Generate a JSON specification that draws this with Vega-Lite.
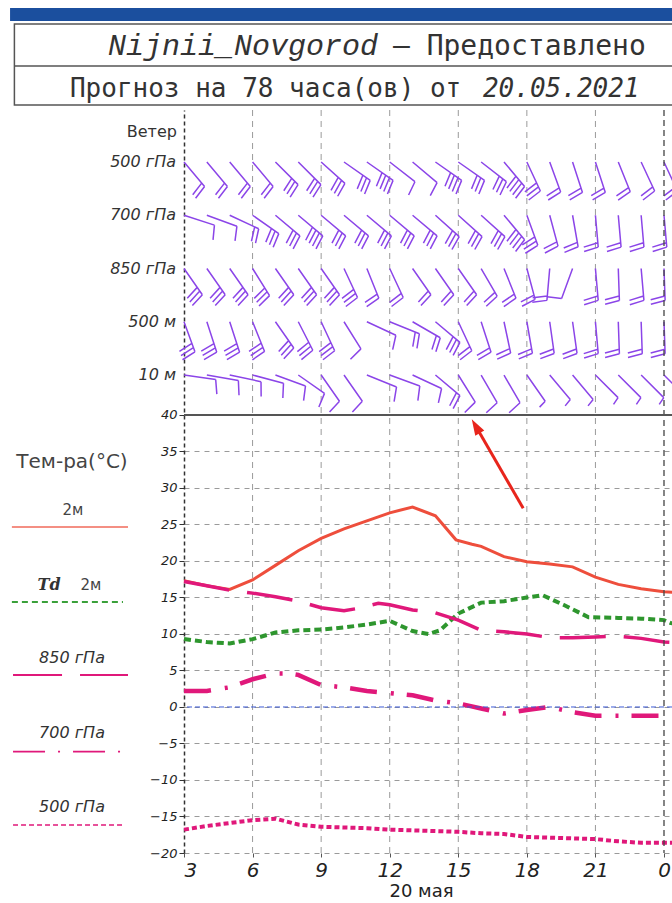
{
"$schema":"https://vega.github.io/schema/vega-lite/v6.json",
"width":488,"height":743,
"autosize":{"type":"none"},
"padding":{"left":184,"top":110,"right":0,"bottom":50},
"background":"white",
"config":{"view":{"stroke":null},"font":"DejaVu Sans"},
"datasets":{
"grid":[{"g":6},{"g":9},{"g":12},{"g":15},{"g":18},{"g":21}],
"levels":[{"lev":"500 гПа","lbl":"500 гПа"},{"lev":"700 гПа","lbl":"700 гПа"},{"lev":"850 гПа","lbl":"850 гПа"},{"lev":"500 м","lbl":"500 м"},{"lev":"10 м","lbl":"10   м"}],
"wind":[
{"h":3,"lev":"500 гПа","a":50,"n":"2"},{"h":4,"lev":"500 гПа","a":50,"n":"2"},{"h":5,"lev":"500 гПа","a":50,"n":"2"},{"h":6,"lev":"500 гПа","a":50,"n":"2"},{"h":7,"lev":"500 гПа","a":45,"n":"3"},{"h":8,"lev":"500 гПа","a":45,"n":"3"},{"h":9,"lev":"500 гПа","a":42,"n":"3"},{"h":10,"lev":"500 гПа","a":35,"n":"3"},{"h":11,"lev":"500 гПа","a":35,"n":"4"},{"h":12,"lev":"500 гПа","a":38,"n":"1"},{"h":13,"lev":"500 гПа","a":40,"n":"1"},{"h":14,"lev":"500 гПа","a":35,"n":"4"},{"h":15,"lev":"500 гПа","a":35,"n":"3"},{"h":16,"lev":"500 гПа","a":38,"n":"3"},{"h":17,"lev":"500 гПа","a":50,"n":"4"},{"h":18,"lev":"500 гПа","a":65,"n":"3"},{"h":19,"lev":"500 гПа","a":70,"n":"2"},{"h":20,"lev":"500 гПа","a":72,"n":"2"},{"h":21,"lev":"500 гПа","a":72,"n":"2"},{"h":22,"lev":"500 гПа","a":68,"n":"2"},{"h":23,"lev":"500 гПа","a":65,"n":"2"},{"h":24,"lev":"500 гПа","a":65,"n":"2"},
{"h":3,"lev":"700 гПа","a":18,"n":"1"},{"h":4,"lev":"700 гПа","a":20,"n":"1"},{"h":5,"lev":"700 гПа","a":25,"n":"2"},{"h":6,"lev":"700 гПа","a":35,"n":"3"},{"h":7,"lev":"700 гПа","a":40,"n":"3"},{"h":8,"lev":"700 гПа","a":40,"n":"4"},{"h":9,"lev":"700 гПа","a":40,"n":"3"},{"h":10,"lev":"700 гПа","a":40,"n":"3"},{"h":11,"lev":"700 гПа","a":40,"n":"3"},{"h":12,"lev":"700 гПа","a":40,"n":"3"},{"h":13,"lev":"700 гПа","a":40,"n":"3"},{"h":14,"lev":"700 гПа","a":42,"n":"3"},{"h":15,"lev":"700 гПа","a":42,"n":"3"},{"h":16,"lev":"700 гПа","a":42,"n":"3"},{"h":17,"lev":"700 гПа","a":50,"n":"4"},{"h":18,"lev":"700 гПа","a":70,"n":"3"},{"h":19,"lev":"700 гПа","a":75,"n":"2"},{"h":20,"lev":"700 гПа","a":80,"n":"2"},{"h":21,"lev":"700 гПа","a":85,"n":"2"},{"h":22,"lev":"700 гПа","a":85,"n":"2"},{"h":23,"lev":"700 гПа","a":85,"n":"2"},{"h":24,"lev":"700 гПа","a":85,"n":"2"},
{"h":3,"lev":"850 гПа","a":55,"n":"3"},{"h":4,"lev":"850 гПа","a":55,"n":"3"},{"h":5,"lev":"850 гПа","a":55,"n":"3"},{"h":6,"lev":"850 гПа","a":58,"n":"3"},{"h":7,"lev":"850 гПа","a":55,"n":"3"},{"h":8,"lev":"850 гПа","a":55,"n":"3"},{"h":9,"lev":"850 гПа","a":55,"n":"3"},{"h":10,"lev":"850 гПа","a":65,"n":"3"},{"h":11,"lev":"850 гПа","a":68,"n":"2"},{"h":12,"lev":"850 гПа","a":65,"n":"2"},{"h":13,"lev":"850 гПа","a":55,"n":"2"},{"h":14,"lev":"850 гПа","a":55,"n":"2"},{"h":15,"lev":"850 гПа","a":55,"n":"2"},{"h":16,"lev":"850 гПа","a":60,"n":"2"},{"h":17,"lev":"850 гПа","a":68,"n":"2"},{"h":18,"lev":"850 гПа","a":75,"n":"2"},{"h":19,"lev":"850 гПа","a":95,"n":"2"},{"h":20,"lev":"850 гПа","a":110,"n":"1"},{"h":21,"lev":"850 гПа","a":85,"n":"2"},{"h":22,"lev":"850 гПа","a":88,"n":"2"},{"h":23,"lev":"850 гПа","a":85,"n":"2"},{"h":24,"lev":"850 гПа","a":88,"n":"2"},
{"h":3,"lev":"500 м","a":70,"n":"3"},{"h":4,"lev":"500 м","a":72,"n":"3"},{"h":5,"lev":"500 м","a":72,"n":"3"},{"h":6,"lev":"500 м","a":68,"n":"3"},{"h":7,"lev":"500 м","a":55,"n":"3"},{"h":8,"lev":"500 м","a":63,"n":"3"},{"h":9,"lev":"500 м","a":65,"n":"3"},{"h":10,"lev":"500 м","a":58,"n":"1"},{"h":11,"lev":"500 м","a":25,"n":"1"},{"h":12,"lev":"500 м","a":22,"n":"2"},{"h":13,"lev":"500 м","a":30,"n":"2"},{"h":14,"lev":"500 м","a":40,"n":"3"},{"h":15,"lev":"500 м","a":65,"n":"2"},{"h":16,"lev":"500 м","a":72,"n":"2"},{"h":17,"lev":"500 м","a":78,"n":"2"},{"h":18,"lev":"500 м","a":80,"n":"2"},{"h":19,"lev":"500 м","a":82,"n":"2"},{"h":20,"lev":"500 м","a":82,"n":"2"},{"h":21,"lev":"500 м","a":85,"n":"2"},{"h":22,"lev":"500 м","a":88,"n":"2"},{"h":23,"lev":"500 м","a":88,"n":"2"},{"h":24,"lev":"500 м","a":88,"n":"2"},
{"h":3,"lev":"10 м","a":8,"n":"1"},{"h":4,"lev":"10 м","a":10,"n":"1"},{"h":5,"lev":"10 м","a":12,"n":"1"},{"h":6,"lev":"10 м","a":15,"n":"1"},{"h":7,"lev":"10 м","a":20,"n":"1"},{"h":8,"lev":"10 м","a":35,"n":"1"},{"h":9,"lev":"10 м","a":55,"n":"1"},{"h":10,"lev":"10 м","a":55,"n":"1"},{"h":11,"lev":"10 м","a":22,"n":"1"},{"h":12,"lev":"10 м","a":20,"n":"1"},{"h":13,"lev":"10 м","a":25,"n":"1"},{"h":14,"lev":"10 м","a":40,"n":"2"},{"h":15,"lev":"10 м","a":58,"n":"1"},{"h":16,"lev":"10 м","a":60,"n":"1"},{"h":17,"lev":"10 м","a":60,"n":"1"},{"h":18,"lev":"10 м","a":55,"n":"h"},{"h":19,"lev":"10 м","a":50,"n":"h"},{"h":20,"lev":"10 м","a":50,"n":"h"},{"h":21,"lev":"10 м","a":45,"n":"h"},{"h":22,"lev":"10 м","a":45,"n":"h"},{"h":23,"lev":"10 м","a":45,"n":"h"},{"h":24,"lev":"10 м","a":45,"n":"h"}
],
"temps":[
{"s":"2м","h":3,"t":17.3},{"s":"2м","h":4,"t":16.6},{"s":"2м","h":5,"t":16.1},{"s":"2м","h":6,"t":17.4},{"s":"2м","h":7,"t":19.4},{"s":"2м","h":8,"t":21.4},{"s":"2м","h":9,"t":23.1},{"s":"2м","h":10,"t":24.4},{"s":"2м","h":11,"t":25.5},{"s":"2м","h":12,"t":26.6},{"s":"2м","h":13,"t":27.4},{"s":"2м","h":14,"t":26.2},{"s":"2м","h":14.9,"t":22.9},{"s":"2м","h":15.6,"t":22.3},{"s":"2м","h":16,"t":22.0},{"s":"2м","h":17,"t":20.6},{"s":"2м","h":18,"t":19.9},{"s":"2м","h":19,"t":19.6},{"s":"2м","h":20,"t":19.2},{"s":"2м","h":21,"t":17.8},{"s":"2м","h":22,"t":16.8},{"s":"2м","h":23,"t":16.2},{"s":"2м","h":24,"t":15.8},{"s":"2м","h":25,"t":15.6},
{"s":"Td 2м","h":3,"t":9.3},{"s":"Td 2м","h":4,"t":8.9},{"s":"Td 2м","h":5,"t":8.7},{"s":"Td 2м","h":6,"t":9.3},{"s":"Td 2м","h":7,"t":10.2},{"s":"Td 2м","h":8,"t":10.5},{"s":"Td 2м","h":9,"t":10.6},{"s":"Td 2м","h":10,"t":10.9},{"s":"Td 2м","h":11,"t":11.3},{"s":"Td 2м","h":12,"t":11.8},{"s":"Td 2м","h":13,"t":10.4},{"s":"Td 2м","h":13.7,"t":10.0},{"s":"Td 2м","h":14.2,"t":10.5},{"s":"Td 2м","h":15,"t":12.8},{"s":"Td 2м","h":16,"t":14.3},{"s":"Td 2м","h":17,"t":14.5},{"s":"Td 2м","h":18,"t":15.0},{"s":"Td 2м","h":18.7,"t":15.3},{"s":"Td 2м","h":19.6,"t":14.0},{"s":"Td 2м","h":20.7,"t":12.3},{"s":"Td 2м","h":22,"t":12.2},{"s":"Td 2м","h":23,"t":12.1},{"s":"Td 2м","h":24,"t":11.9},{"s":"Td 2м","h":24.3,"t":11.5},{"s":"Td 2м","h":25,"t":11.3},
{"s":"850 гПа","h":3,"t":17.2},{"s":"850 гПа","h":4,"t":16.6},{"s":"850 гПа","h":5,"t":16.0},{"s":"850 гПа","h":6,"t":15.6},{"s":"850 гПа","h":7,"t":15.1},{"s":"850 гПа","h":8,"t":14.5},{"s":"850 гПа","h":9,"t":13.6},{"s":"850 гПа","h":10,"t":13.2},{"s":"850 гПа","h":10.6,"t":13.5},{"s":"850 гПа","h":11.5,"t":14.2},{"s":"850 гПа","h":12,"t":14.0},{"s":"850 гПа","h":13,"t":13.3},{"s":"850 гПа","h":14,"t":12.9},{"s":"850 гПа","h":15,"t":11.9},{"s":"850 гПа","h":16,"t":10.5},{"s":"850 гПа","h":17,"t":10.3},{"s":"850 гПа","h":18,"t":10.0},{"s":"850 гПа","h":19,"t":9.5},{"s":"850 гПа","h":20,"t":9.5},{"s":"850 гПа","h":21,"t":9.6},{"s":"850 гПа","h":22,"t":9.7},{"s":"850 гПа","h":23,"t":9.4},{"s":"850 гПа","h":24,"t":8.9},{"s":"850 гПа","h":25,"t":8.8},
{"s":"700 гПа","h":3,"t":2.2},{"s":"700 гПа","h":4,"t":2.2},{"s":"700 гПа","h":5,"t":2.7},{"s":"700 гПа","h":6,"t":3.8},{"s":"700 гПа","h":7,"t":4.6},{"s":"700 гПа","h":7.6,"t":4.6},{"s":"700 гПа","h":8,"t":4.4},{"s":"700 гПа","h":9,"t":3.0},{"s":"700 гПа","h":10,"t":2.7},{"s":"700 гПа","h":11,"t":2.2},{"s":"700 гПа","h":12,"t":1.9},{"s":"700 гПа","h":13,"t":1.6},{"s":"700 гПа","h":14,"t":0.9},{"s":"700 гПа","h":15,"t":0.5},{"s":"700 гПа","h":16,"t":-0.2},{"s":"700 гПа","h":17,"t":-0.9},{"s":"700 гПа","h":18,"t":-0.4},{"s":"700 гПа","h":19,"t":0.0},{"s":"700 гПа","h":20,"t":-0.7},{"s":"700 гПа","h":21,"t":-1.2},{"s":"700 гПа","h":22,"t":-1.2},{"s":"700 гПа","h":23,"t":-1.2},{"s":"700 гПа","h":24,"t":-1.2},{"s":"700 гПа","h":25,"t":-1.2},
{"s":"500 гПа","h":3,"t":-16.8},{"s":"500 гПа","h":4,"t":-16.3},{"s":"500 гПа","h":5,"t":-15.9},{"s":"500 гПа","h":6,"t":-15.5},{"s":"500 гПа","h":7,"t":-15.3},{"s":"500 гПа","h":8,"t":-16.1},{"s":"500 гПа","h":9,"t":-16.4},{"s":"500 гПа","h":10,"t":-16.5},{"s":"500 гПа","h":11,"t":-16.6},{"s":"500 гПа","h":12,"t":-16.8},{"s":"500 гПа","h":13,"t":-16.9},{"s":"500 гПа","h":14,"t":-17.0},{"s":"500 гПа","h":15,"t":-17.1},{"s":"500 гПа","h":16,"t":-17.3},{"s":"500 гПа","h":17,"t":-17.4},{"s":"500 гПа","h":18,"t":-17.8},{"s":"500 гПа","h":19,"t":-17.9},{"s":"500 гПа","h":20,"t":-18.0},{"s":"500 гПа","h":21,"t":-18.1},{"s":"500 гПа","h":22,"t":-18.4},{"s":"500 гПа","h":23,"t":-18.6},{"s":"500 гПа","h":24,"t":-18.6},{"s":"500 гПа","h":25,"t":-18.6}
]
},
"layer":[
{"layer":[
 {"data":{"name":"grid"},"mark":{"type":"rule","color":"#9a9a9a","strokeDash":[6,5],"strokeWidth":1},
  "encoding":{"x":{"field":"g","type":"quantitative","scale":{"domain":[3,24.35],"nice":false,"zero":false},
        "axis":{"values":[3,6,9,12,15,18,21,24],"labelExpr":"datum.value == 24 ? '0' : datum.label","title":"20 мая","grid":false,"domain":false,"tickSize":4,"tickColor":"#555","labelFont":"DejaVu Sans","labelFontStyle":"italic","labelFontSize":20,"labelColor":"#222","labelPadding":3,"titleFont":"DejaVu Sans","titleFontSize":18,"titleFontWeight":"normal","titleColor":"#222","titlePadding":2,"titleX":237}}}},
 {"data":{"name":"wind"},
  "mark":{"type":"point","filled":false,"opacity":1,"strokeWidth":1.5,"color":"#8b45e8","size":1024},
  "encoding":{
   "x":{"field":"h","type":"quantitative"},
   "y":{"field":"lev","type":"nominal","scale":{"type":"point","domain":["500 гПа","700 гПа","850 гПа","500 м","10 м"],"range":[52,265],"padding":0},"axis":null},
   "shape":{"field":"n","type":"nominal","scale":{"domain":["h","1","2","3","4"],"range":[
     "M0,0L2,0M2,0L2.1,0.5",
     "M0,0L2,0M2,0L2.2,0.9",
     "M0,0L2,0M2,0L2.2,0.9M1.72,0L1.92,0.9",
     "M0,0L2,0M2,0L2.2,0.9M1.72,0L1.92,0.9M1.44,0L1.64,0.9",
     "M0,0L2,0M2,0L2.2,0.9M1.72,0L1.92,0.9M1.44,0L1.64,0.9M1.16,0L1.36,0.9"]},"legend":null},
   "angle":{"field":"a","type":"quantitative","scale":{"domain":[0,360],"range":[0,360]},"legend":null}
  }},
 {"data":{"name":"levels"},
  "mark":{"type":"text","align":"right","baseline":"middle","fontSize":16,"fontStyle":"italic","color":"#333"},
  "encoding":{"x":{"datum":2.65,"type":"quantitative"},"y":{"field":"lev","type":"nominal","axis":null},"text":{"field":"lbl"}}}
]},
{"layer":[
 {"data":{"name":"temps"},"transform":[{"filter":"datum.s == '2м'"}],
  "mark":{"type":"line","color":"#ee4e3c","strokeWidth":3},
  "encoding":{"x":{"field":"h","type":"quantitative"},
   "y":{"field":"t","type":"quantitative","scale":{"domain":[-20,81.78],"nice":false,"zero":false},
        "axis":{"values":[-20,-15,-10,-5,0,5,10,15,20,25,30,35,40],"grid":true,"gridDash":[5,5],"gridColor":"#9a9a9a","domainDash":[4,3],"domainColor":"#333","domainWidth":1.5,"tickSize":5,"tickColor":"#333","labelFont":"DejaVu Sans","labelFontStyle":"italic","labelFontSize":13,"labelColor":"#222","labelPadding":2,"title":null}}}},
 {"data":{"name":"temps"},"transform":[{"filter":"datum.s == 'Td 2м'"}],
  "mark":{"type":"line","color":"#2e962e","strokeWidth":4,"strokeDash":[7,4]},
  "encoding":{"x":{"field":"h","type":"quantitative"},"y":{"field":"t","type":"quantitative"}}},
 {"data":{"name":"temps"},"transform":[{"filter":"datum.s == '850 гПа'"}],
  "mark":{"type":"line","color":"#e0187a","strokeWidth":3.5,"strokeDash":[46,18]},
  "encoding":{"x":{"field":"h","type":"quantitative"},"y":{"field":"t","type":"quantitative"}}},
 {"data":{"name":"temps"},"transform":[{"filter":"datum.s == '700 гПа'"}],
  "mark":{"type":"line","color":"#e0187a","strokeWidth":4.5,"strokeDash":[27,14,3,13]},
  "encoding":{"x":{"field":"h","type":"quantitative"},"y":{"field":"t","type":"quantitative"}}},
 {"data":{"name":"temps"},"transform":[{"filter":"datum.s == '500 гПа'"}],
  "mark":{"type":"line","color":"#e0187a","strokeWidth":4,"strokeDash":[5,3]},
  "encoding":{"x":{"field":"h","type":"quantitative"},"y":{"field":"t","type":"quantitative"}}},
 {"data":{"values":[{}]},"mark":{"type":"rule","color":"#444","strokeDash":[6,4],"strokeWidth":1.3},
  "encoding":{"x":{"datum":24,"type":"quantitative"}}},
 {"data":{"values":[{}]},"mark":{"type":"rule","color":"#3d5bd6","strokeDash":[5,3],"strokeWidth":1},
  "encoding":{"y":{"datum":0,"type":"quantitative"}}},
 {"data":{"values":[{}]},"mark":{"type":"rule","color":"#555","strokeWidth":2},
  "encoding":{"y":{"datum":40,"type":"quantitative"}}},
 {"data":{"values":[{}]},"mark":{"type":"rule","color":"#f06a5a","strokeWidth":1.6},
  "encoding":{"x":{"datum":-4.53,"type":"quantitative"},"x2":{"datum":0.55},"y":{"datum":24.66,"type":"quantitative"}}},
 {"data":{"values":[{}]},"mark":{"type":"rule","color":"#3aa03a","strokeWidth":1.8,"strokeDash":[6,4]},
  "encoding":{"x":{"datum":-4.53,"type":"quantitative"},"x2":{"datum":0.33},"y":{"datum":14.38,"type":"quantitative"}}},
 {"data":{"values":[{}]},"mark":{"type":"rule","color":"#e0187a","strokeWidth":1.8,"strokeDash":[49,18]},
  "encoding":{"x":{"datum":-4.48,"type":"quantitative"},"x2":{"datum":0.55},"y":{"datum":4.38,"type":"quantitative"}}},
 {"data":{"values":[{}]},"mark":{"type":"rule","color":"#e0187a","strokeWidth":1.8,"strokeDash":[32,13,2,13]},
  "encoding":{"x":{"datum":-4.48,"type":"quantitative"},"x2":{"datum":0.29},"y":{"datum":-6.12,"type":"quantitative"}}},
 {"data":{"values":[{}]},"mark":{"type":"rule","color":"#e0187a","strokeWidth":1.5,"strokeDash":[5,3]},
  "encoding":{"x":{"datum":-4.48,"type":"quantitative"},"x2":{"datum":0.29},"y":{"datum":-16.16,"type":"quantitative"}}},
 {"data":{"values":[{"t":"Тем-ра(°C)"}]},"mark":{"type":"text","align":"center","baseline":"middle","fontSize":20,"color":"#444"},
  "encoding":{"x":{"datum":-1.9,"type":"quantitative"},"y":{"datum":33.6,"type":"quantitative"},"text":{"field":"t"}}},
 {"data":{"values":[{"t":"2м"}]},"mark":{"type":"text","align":"center","baseline":"middle","fontSize":15,"color":"#444"},
  "encoding":{"x":{"datum":-1.86,"type":"quantitative"},"y":{"datum":27.0,"type":"quantitative"},"text":{"field":"t"}}},
 {"data":{"values":[{"t":"Td"}]},"mark":{"type":"text","align":"center","baseline":"middle","fontSize":16,"font":"DejaVu Serif","fontStyle":"italic","fontWeight":"bold","color":"#333"},
  "encoding":{"x":{"datum":-2.9,"type":"quantitative"},"y":{"datum":16.7,"type":"quantitative"},"text":{"field":"t"}}},
 {"data":{"values":[{"t":"2м"}]},"mark":{"type":"text","align":"center","baseline":"middle","fontSize":15,"color":"#444"},
  "encoding":{"x":{"datum":-1.07,"type":"quantitative"},"y":{"datum":16.7,"type":"quantitative"},"text":{"field":"t"}}},
 {"data":{"values":[{"t":"850 гПа"}]},"mark":{"type":"text","align":"center","baseline":"middle","fontSize":16,"fontStyle":"italic","color":"#333"},
  "encoding":{"x":{"datum":-1.9,"type":"quantitative"},"y":{"datum":6.7,"type":"quantitative"},"text":{"field":"t"}}},
 {"data":{"values":[{"t":"700 гПа"}]},"mark":{"type":"text","align":"center","baseline":"middle","fontSize":16,"fontStyle":"italic","color":"#333"},
  "encoding":{"x":{"datum":-1.9,"type":"quantitative"},"y":{"datum":-3.56,"type":"quantitative"},"text":{"field":"t"}}},
 {"data":{"values":[{"t":"500 гПа"}]},"mark":{"type":"text","align":"center","baseline":"middle","fontSize":16,"fontStyle":"italic","color":"#333"},
  "encoding":{"x":{"datum":-1.9,"type":"quantitative"},"y":{"datum":-13.7,"type":"quantitative"},"text":{"field":"t"}}},
 {"data":{"values":[{"t":"Ветер"}]},"mark":{"type":"text","align":"right","baseline":"middle","fontSize":16,"color":"#333"},
  "encoding":{"x":{"datum":2.69,"type":"quantitative"},"y":{"datum":78.77,"type":"quantitative"},"text":{"field":"t"}}},
 {"data":{"values":[{}]},"mark":{"type":"rect","fill":"#1b4f9e"},
  "encoding":{"x":{"datum":-4.61,"type":"quantitative"},"x2":{"datum":24.6},"y":{"datum":95.75,"type":"quantitative"},"y2":{"datum":93.97}}},
 {"data":{"values":[{}]},"mark":{"type":"rect","fill":"white","stroke":"#555","strokeWidth":1.5},
  "encoding":{"x":{"datum":-4.42,"type":"quantitative"},"x2":{"datum":24.8},"y":{"datum":93.56,"type":"quantitative"},"y2":{"datum":82.47}}},
 {"data":{"values":[{}]},"mark":{"type":"rule","color":"#555","strokeWidth":1.5},
  "encoding":{"x":{"datum":-4.42,"type":"quantitative"},"x2":{"datum":24.8},"y":{"datum":87.81,"type":"quantitative"}}},
 {"data":{"values":[{"t":"Nijnii_Novgorod"}]},"mark":{"type":"text","align":"left","baseline":"alphabetic","fontSize":30,"font":"Liberation Mono","fontStyle":"italic","color":"#333"},
  "encoding":{"x":{"datum":-0.33,"type":"quantitative"},"y":{"datum":89.32,"type":"quantitative"},"text":{"field":"t"}}},
 {"data":{"values":[{"t":"— Предоставлено"}]},"mark":{"type":"text","align":"left","baseline":"alphabetic","fontSize":28,"font":"DejaVu Sans Mono","color":"#333"},
  "encoding":{"x":{"datum":12.14,"type":"quantitative"},"y":{"datum":89.32,"type":"quantitative"},"text":{"field":"t"}}},
 {"data":{"values":[{"t":"Прогноз на 78 часа(ов) от"}]},"mark":{"type":"text","align":"left","baseline":"alphabetic","fontSize":26,"font":"DejaVu Sans Mono","color":"#333"},
  "encoding":{"x":{"datum":-1.99,"type":"quantitative"},"y":{"datum":83.6,"type":"quantitative"},"text":{"field":"t"}}},
 {"data":{"values":[{"t":"20.05.2021"}]},"mark":{"type":"text","align":"left","baseline":"alphabetic","fontSize":26,"font":"DejaVu Sans Mono","fontStyle":"italic","color":"#333"},
  "encoding":{"x":{"datum":16.08,"type":"quantitative"},"y":{"datum":83.6,"type":"quantitative"},"text":{"field":"t"}}},
 {"data":{"values":[{}]},"mark":{"type":"rule","color":"#e8251c","strokeWidth":3},
  "encoding":{"x":{"datum":17.84,"type":"quantitative"},"x2":{"datum":15.85},"y":{"datum":27.22,"type":"quantitative"},"y2":{"datum":38.0}}},
 {"data":{"values":[{}]},"mark":{"type":"point","shape":"M0,0L0.65,2L-0.65,2Z","filled":true,"color":"#e8251c","opacity":1,"size":256,"angle":330},
  "encoding":{"x":{"datum":15.59,"type":"quantitative"},"y":{"datum":39.41,"type":"quantitative"}}}
]}
],
"resolve":{"scale":{"y":"independent"}}
}
